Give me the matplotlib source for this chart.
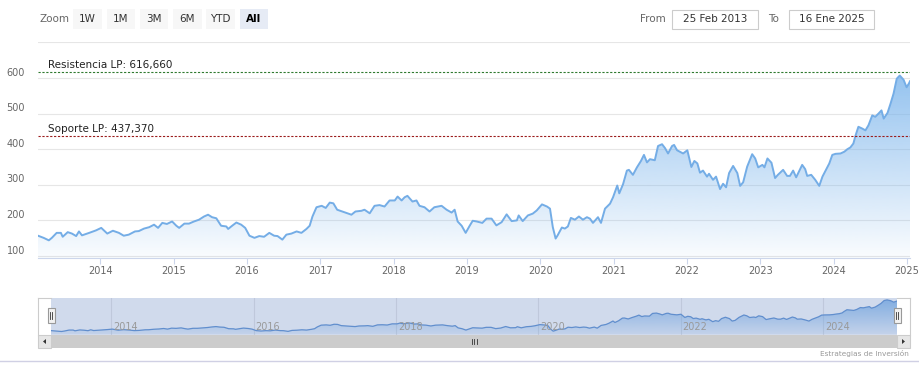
import numpy as np
import pandas as pd
import matplotlib
matplotlib.use("Agg")
import matplotlib.pyplot as plt
import matplotlib.dates as mdates
from matplotlib.patches import Rectangle, Polygon
from matplotlib.lines import Line2D

# precio semanal aproximado
fechas = [
    "2013-02-25", "2013-03-25", "2013-04-20", "2013-05-05", "2013-05-29", "2013-06-19",
    "2013-06-28", "2013-07-23", "2013-08-13", "2013-09-03", "2013-09-17", "2013-10-02",
    "2013-11-07", "2013-12-11", "2014-01-06", "2014-02-05", "2014-03-05", "2014-04-04",
    "2014-04-28", "2014-05-23", "2014-06-23", "2014-07-12", "2014-08-07", "2014-09-02",
    "2014-09-26", "2014-10-16", "2014-11-06", "2014-11-29", "2014-12-25", "2015-01-15",
    "2015-01-29", "2015-02-24", "2015-03-19", "2015-04-13", "2015-05-08", "2015-06-02",
    "2015-06-22", "2015-07-12", "2015-08-02", "2015-08-26", "2015-09-21", "2015-09-30",
    "2015-10-20", "2015-11-10", "2015-12-04", "2015-12-24", "2016-01-14", "2016-02-08",
    "2016-03-03", "2016-03-27", "2016-04-22", "2016-05-16", "2016-06-02", "2016-06-26",
    "2016-07-16", "2016-08-10", "2016-09-05", "2016-09-29", "2016-10-24", "2016-11-09",
    "2016-11-23", "2016-12-13", "2017-01-08", "2017-01-28", "2017-02-17", "2017-03-07",
    "2017-03-26", "2017-04-21", "2017-05-16", "2017-06-05", "2017-06-25", "2017-07-25",
    "2017-08-09", "2017-09-04", "2017-09-28", "2017-10-23", "2017-11-17", "2017-12-12",
    "2018-01-07", "2018-01-21", "2018-02-10", "2018-02-25", "2018-03-11", "2018-04-05",
    "2018-04-25", "2018-05-10", "2018-06-04", "2018-06-29", "2018-07-23", "2018-08-28",
    "2018-09-22", "2018-10-17", "2018-11-01", "2018-11-16", "2018-12-06", "2018-12-26",
    "2019-01-15", "2019-01-30", "2019-02-19", "2019-03-19", "2019-04-09", "2019-05-04",
    "2019-05-28", "2019-06-23", "2019-07-18", "2019-08-12", "2019-09-07", "2019-09-16",
    "2019-10-06", "2019-11-01", "2019-11-25", "2019-12-15", "2020-01-10", "2020-02-04",
    "2020-02-19", "2020-03-04", "2020-03-18", "2020-03-28", "2020-04-18", "2020-05-03",
    "2020-05-18", "2020-06-02", "2020-06-22", "2020-07-12", "2020-08-01", "2020-08-21",
    "2020-09-05", "2020-09-20", "2020-10-15", "2020-10-30", "2020-11-19", "2020-12-14",
    "2020-12-29", "2021-01-19", "2021-01-29", "2021-02-17", "2021-03-08", "2021-03-18",
    "2021-04-07", "2021-04-27", "2021-05-17", "2021-06-01", "2021-06-16", "2021-07-01",
    "2021-07-25", "2021-08-10", "2021-08-30", "2021-09-14", "2021-09-29", "2021-10-19",
    "2021-10-29", "2021-11-13", "2021-12-03", "2021-12-13", "2022-01-03", "2022-01-23",
    "2022-02-07", "2022-02-22", "2022-03-07", "2022-03-22", "2022-04-11", "2022-04-21",
    "2022-05-11", "2022-05-26", "2022-06-15", "2022-06-30", "2022-07-15", "2022-07-30",
    "2022-08-19", "2022-09-09", "2022-09-23", "2022-10-08", "2022-10-28", "2022-11-22",
    "2022-12-07", "2022-12-22", "2023-01-12", "2023-01-22", "2023-02-06", "2023-02-26",
    "2023-03-16", "2023-03-30", "2023-04-25", "2023-05-15", "2023-05-29", "2023-06-14",
    "2023-06-29", "2023-07-29", "2023-08-13", "2023-08-23", "2023-09-12", "2023-10-02",
    "2023-10-22", "2023-11-07", "2023-11-26", "2023-12-11", "2023-12-26", "2024-01-11",
    "2024-02-05", "2024-02-24", "2024-03-10", "2024-03-25", "2024-04-09", "2024-04-19",
    "2024-05-04", "2024-05-23", "2024-06-08", "2024-06-23", "2024-07-12", "2024-07-27",
    "2024-08-12", "2024-08-27", "2024-09-07", "2024-09-26", "2024-10-11", "2024-10-26",
    "2024-11-11", "2024-11-26", "2024-12-15", "2024-12-30", "2025-01-10", "2025-01-16",
]
precios = [
    157, 151, 144, 151, 165, 165,
    154, 167, 163, 156, 169, 158,
    165, 172, 179, 163, 171, 165,
    157, 160, 169, 170, 177, 181,
    188, 179, 193, 190, 197, 185,
    179, 191, 191, 197, 202, 211,
    216, 209, 206, 185, 183, 176,
    185, 194, 188, 179, 157, 151,
    156, 154, 165, 157, 156, 146,
    160, 163, 169, 165, 176, 185,
    211, 237, 241, 235, 250, 248,
    230, 225, 220, 216, 225, 227,
    230, 220, 241, 243, 239, 256,
    256, 267, 256, 265, 269, 253,
    256, 241, 237, 225, 237, 241,
    230, 222, 230, 197, 185, 165,
    185, 199, 197, 193, 205, 205,
    186, 195, 217, 198, 200, 214,
    198, 214, 219, 228, 245, 239,
    233, 181, 149, 158, 180, 177,
    183, 207, 202, 211, 202, 209,
    205, 193, 209, 193, 233, 247,
    265, 298, 276, 302, 340, 342,
    328, 349, 367, 384, 363, 372,
    369, 409, 414, 403, 388, 409,
    412, 397, 391, 388, 397, 350,
    367, 360, 334, 340, 323, 331,
    314, 323, 288, 303, 293, 333,
    353, 333, 297, 307, 351, 386,
    374, 349, 356, 349, 374, 362,
    319, 328, 342, 325, 325, 340,
    321, 356, 344, 325, 328, 314,
    297, 323, 344, 360, 384, 387,
    388, 393, 400, 405, 416, 437,
    463, 458, 453, 467, 495, 491,
    500, 509, 486, 502, 528, 556,
    598, 607, 595, 574, 584, 591,
]

resistencia = 616.660
soporte = 437.370
niveles_y = [100, 200, 300, 400, 500, 600]
anios_eje = list(range(2014, 2026))
anios_nav = list(range(2014, 2025, 2))
botones = ["1W", "1M", "3M", "6M", "YTD", "All"]
desde = "25 Feb 2013"
hasta = "16 Ene 2025"

W, H = 919, 378
plt.rcParams['font.family'] = ['DejaVu Sans']

fig = plt.figure(figsize=(W / 100, H / 100), dpi=100)


def caja(x0, y0, x1, y1):
    # pixeles (origen arriba-izquierda) -> fraccion de figura
    return [x0 / W, 1 - y1 / H, (x1 - x0) / W, (y1 - y0) / H]


def fx(x):
    return x / W


def fy(y):
    return 1 - y / H


t = mdates.date2num(pd.to_datetime(fechas))
p = np.array(precios, dtype=float)
azul = np.array([124, 181, 236]) / 255.0


def area_degradado(ax, x, y, ymin, ymax, a_top, a_bot, color_linea, lw):
    poly = ax.fill_between(x, y, ymin, color='none', lw=0)
    img = np.zeros((256, 1, 4))
    img[..., :3] = azul
    img[..., 3] = np.linspace(a_top, a_bot, 256).reshape(-1, 1)
    im = ax.imshow(img, extent=[x[0], x[-1], ymin, ymax], aspect='auto',
                   origin='upper', zorder=1, interpolation='bilinear')
    im.set_clip_path(poly.get_paths()[0], transform=ax.transData)
    ax.plot(x, y, color=color_linea, lw=lw, zorder=3, solid_joinstyle='round')


# ---- grafico principal ----
ax = fig.add_axes(caja(38, 42.4, 910, 258))
ymin, ymax = 94.4, 700
ax.set_xlim(t[0], t[-1])
ax.set_ylim(ymin, ymax)
for v in niveles_y + [700]:
    ax.axhline(v, color='#e6e6e6', lw=0.8, zorder=0)
area_degradado(ax, t, p, ymin, ymax, 0.95, 0.04, '#74ade6', 1.4)

for s in ['top', 'left', 'right']:
    ax.spines[s].set_visible(False)
ax.spines['bottom'].set_color('#ccd6eb')
ax.spines['bottom'].set_linewidth(0.8)
ax.set_yticks([])
xt = mdates.date2num([pd.Timestamp(f"{a}-01-01") for a in anios_eje])
ax.set_xticks(xt)
ax.set_xticklabels([str(a) for a in anios_eje], fontsize=7, color='#666666')
ax.tick_params(axis='x', length=4.5, width=0.8, color='#ccd6eb', pad=1.5)

for v in niveles_y:
    ax.annotate(str(v), xy=(0, v), xycoords=('axes fraction', 'data'),
                xytext=(-13, 5.5), textcoords='offset pixels',
                ha='right', va='center', fontsize=7, color='#666666')

ax.axhline(resistencia, color='#2f7a2f', lw=0.8, ls=(0, (2, 1.5)), zorder=4)
ax.axhline(soporte, color='#9b1c1c', lw=0.8, ls=(0, (2, 1.5)), zorder=4)
ax.annotate("Resistencia LP: 616,660", xy=(0, resistencia),
            xycoords=('axes fraction', 'data'), xytext=(10, 7),
            textcoords='offset pixels', ha='left', va='center',
            fontsize=7.5, color='#222222')
ax.annotate("Soporte LP: 437,370", xy=(0, soporte),
            xycoords=('axes fraction', 'data'), xytext=(10, 7),
            textcoords='offset pixels', ha='left', va='center',
            fontsize=7.5, color='#222222')

# ---- barra de zoom ----
fig.text(fx(40), fy(19), "Zoom", fontsize=7.5, color='#666666', va='center')
pos_botones = [(73, 102), (107, 135), (140, 168), (173, 202), (206, 235), (240, 268)]
for b, (x0, x1) in zip(botones, pos_botones):
    sel = b == "All"
    fig.patches.append(Rectangle((fx(x0), fy(29)), (x1 - x0) / W, 20 / H,
                                 transform=fig.transFigure,
                                 facecolor='#e6ebf5' if sel else '#f7f7f7',
                                 edgecolor='none'))
    fig.text(fx((x0 + x1) / 2), fy(19), b, fontsize=7.5, ha='center', va='center',
             color='#000000' if sel else '#333333',
             fontweight='bold' if sel else 'normal')

fig.text(fx(640), fy(19), "From", fontsize=7.5, color='#666666', va='center')
fig.text(fx(768), fy(19), "To", fontsize=7.5, color='#666666', va='center')
for txt, (x0, x1) in [(desde, (672, 758)), (hasta, (789, 874))]:
    fig.patches.append(Rectangle((fx(x0), fy(29)), (x1 - x0) / W, 19 / H,
                                 transform=fig.transFigure, facecolor='white',
                                 edgecolor='#cccccc', lw=0.8))
    fig.text(fx((x0 + x1) / 2), fy(19.5), txt, fontsize=7.5, ha='center',
             va='center', color='#333333')

# ---- navegador ----
nav = fig.add_axes(caja(51, 298, 897, 334.5))
nmin, nmax = 100, 635
nav.set_xlim(t[0], t[-1])
nav.set_ylim(nmin, nmax)
area_degradado(nav, t, p, nmin, nmax, 0.9, 0.15, '#5f93d3', 0.9)
nav.add_patch(Rectangle((0, 0), 1, 1, transform=nav.transAxes,
                        facecolor=(102 / 255, 133 / 255, 194 / 255, 0.3),
                        edgecolor='none', zorder=5))
for a in anios_nav:
    xa = mdates.date2num(pd.Timestamp(f"{a}-01-01"))
    nav.axvline(xa, color='#e6e6e6', lw=0.8, zorder=0.5)
    nav.annotate(str(a), xy=(xa, 0), xycoords=('data', 'axes fraction'),
                 xytext=(2, 7.5), textcoords='offset pixels', ha='left',
                 va='center', fontsize=7, color='#999999', zorder=6)
nav.set_xticks([])
nav.set_yticks([])
for s in nav.spines.values():
    s.set_visible(False)

# contorno del navegador
for xs, ys in [([38, 51], [298, 298]), ([38, 38], [298, 335]),
               ([897, 910], [298, 298]), ([910, 910], [298, 335])]:
    fig.lines.append(Line2D([fx(x) for x in xs], [fy(y) for y in ys],
                            transform=fig.transFigure, color='#cccccc', lw=0.8))

# manijas
for xc in (51, 897):
    fig.patches.append(Rectangle((fx(xc - 3.5), fy(323)), 7 / W, 15 / H,
                                 transform=fig.transFigure, facecolor='#f2f2f2',
                                 edgecolor='#999999', lw=0.8, zorder=10))
    for dx in (-1, 1):
        fig.lines.append(Line2D([fx(xc + dx)] * 2, [fy(312), fy(319)],
                                transform=fig.transFigure, color='#333333',
                                lw=0.6, zorder=11))

# barra de desplazamiento
fig.patches.append(Rectangle((fx(51), fy(348)), 846 / W, 13 / H,
                             transform=fig.transFigure, facecolor='#cccccc',
                             edgecolor='none'))
for xg in (472, 474.5, 477):
    fig.lines.append(Line2D([fx(xg)] * 2, [fy(339), fy(344)],
                            transform=fig.transFigure, color='#333333', lw=0.6))
for x0, d in [(38, -1), (897, 1)]:
    fig.patches.append(Rectangle((fx(x0), fy(348)), 13 / W, 13 / H,
                                 transform=fig.transFigure, facecolor='#e6e6e6',
                                 edgecolor='#cccccc', lw=0.8))
    xc = x0 + 6.5
    tri = [(fx(xc + 1.5 * d), fy(341.5)), (fx(xc - 1.5 * d), fy(339)),
           (fx(xc - 1.5 * d), fy(344))]
    fig.patches.append(Polygon(tri, closed=True, transform=fig.transFigure,
                               facecolor='#333333', edgecolor='none'))

# creditos y linea inferior
fig.text(fx(909), fy(353.5), "Estrategias de Inversión", fontsize=5.3,
         color='#999999', ha='right', va='center')
fig.lines.append(Line2D([0, 1], [fy(361), fy(361)], transform=fig.transFigure,
                        color='#d0d0e4', lw=1.0))

fig.savefig("out.png", dpi=100)
